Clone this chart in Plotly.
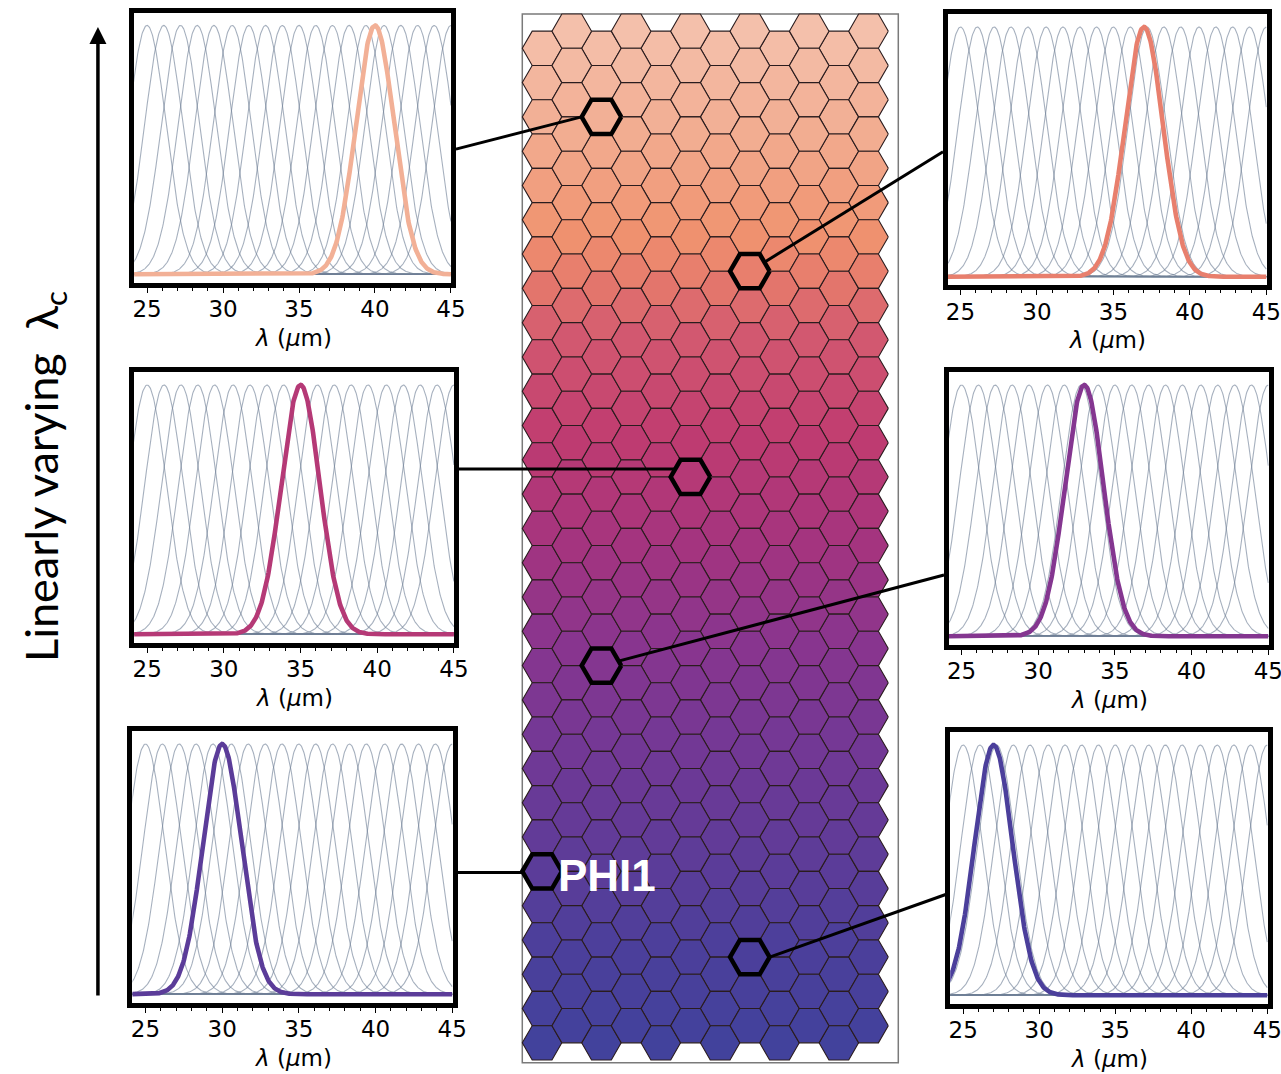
import numpy as np
import plotly.graph_objects as go
from plotly.colors import sample_colorscale

# ---------------- data ----------------
FILTER_CENTERS = [25.0, 26.1, 27.2, 28.3, 29.4, 30.6, 31.7, 32.8, 33.9, 35.0,
                  36.1, 37.2, 38.3, 39.4, 40.6, 41.7, 42.8, 43.9, 45.0]   # µm
FILTER_SIGMA = 1.25                                                      # µm
PANEL_LAMBDA = [40, 37, 35, 33, 30, 27]          # highlighted filter centre per inset
PANEL_HEX_COL = [2, 7, 5, 2, 0, 7]               # hex column of each highlighted pixel
PANEL_HEX_ROW = [2, 7, 13, 18, 24, 27]           # hex row of each highlighted pixel
X_TICKS = [25, 30, 35, 40, 45]
N_COLS = 12
N_ROWS = 30
# vertical colour gradient of the array (0 = top row, 1 = bottom row)
GRAD_POS = [0.0, 0.10, 0.20, 0.25, 0.30, 0.40, 0.50, 0.60, 0.70, 0.80, 0.90, 1.0]
GRAD_RGB = ["rgb(244,192,171)", "rgb(242,173,146)", "rgb(240,147,111)",
            "rgb(229,120,108)", "rgb(211,90,112)", "rgb(192,60,112)",
            "rgb(166,52,126)", "rgb(138,53,142)", "rgb(116,56,149)",
            "rgb(97,59,152)", "rgb(77,63,155)", "rgb(66,66,156)"]
COLORSCALE = [[p, c] for p, c in zip(GRAD_POS, GRAD_RGB)]

# ---------------- geometry / style ----------------
W, H = 1281, 1074            # coordinate frame (reference pixels)
FIG_W = 1296                 # rendered width
BOX_X0, BOX_Y0, BOX_X1, BOX_Y1 = 520.7, 14.0, 897.0, 1062.7
R = 19.8
HEX_H = np.sqrt(3) * R
CX0 = BOX_X0 + R
CY0 = BOX_Y0 + HEX_H / 2
CY_TOP = CY0
CY_BOT = CY0 + (N_ROWS - 1) * HEX_H + HEX_H / 2

# inset frames (line centres): left, top, right, bottom
PANEL_BOX = [(130.0, 10.5, 452.0, 285.0), (944.0, 12.0, 1268.0, 287.5),
             (130.0, 370.0, 455.0, 645.0), (945.0, 370.0, 1270.0, 647.0),
             (128.3, 729.0, 453.3, 1005.0), (946.7, 730.0, 1269.0, 1006.0)]
PANEL_SIDE = ["left", "right", "left", "right", "left", "right"]
ANCHOR_FRAC = [0.505, 0.507, 0.36, 0.74, 0.52, 0.596]
TARGET_MODE = ["lvertex", "center", "horiz", "center", "horiz", "rvertex"]
FRAME_LW = 4.5
XR = [24.15, 45.03]
YR = [-0.034, 1.051]
GRAY = "rgba(112,128,150,0.62)"


def hex_center(c, r):
    cx = CX0 + c * 1.5 * R
    cy = CY0 + r * HEX_H + (HEX_H / 2 if c % 2 == 0 else 0.0)
    return cx, cy


def hex_poly(cx, cy):
    ang = np.deg2rad(np.arange(0, 361, 60))
    return list(cx + R * np.cos(ang)), list(cy + R * np.sin(ang))


def color_at(cy):
    t = (cy - CY_TOP) / (CY_BOT - CY_TOP)
    return sample_colorscale(COLORSCALE, [min(max(t, 0), 1)])[0]


fig = go.Figure()

# ---- hexagonal array (main full-canvas axis) ----
for parity in (0, 1):
    for r in range(N_ROWS):
        xs, ys = [], []
        cy_ref = None
        for c in range(N_COLS):
            if c % 2 != parity:
                continue
            cx, cy = hex_center(c, r)
            cy_ref = cy
            px, py = hex_poly(cx, cy)
            xs += px + [None]
            ys += py + [None]
        fig.add_trace(go.Scatter(x=xs, y=ys, mode="lines", fill="toself",
                                 fillcolor=color_at(cy_ref),
                                 line=dict(color="#2a1c1e", width=1.1),
                                 hoverinfo="skip", showlegend=False,
                                 xaxis="x", yaxis="y"))

# ---- connector lines ----
for i in range(6):
    L, T, Rr, B = PANEL_BOX[i]
    sx = Rr + FRAME_LW / 2 if PANEL_SIDE[i] == "left" else L - FRAME_LW / 2
    sy = T + ANCHOR_FRAC[i] * (B - T)
    cx, cy = hex_center(PANEL_HEX_COL[i], PANEL_HEX_ROW[i])
    mode = TARGET_MODE[i]
    if mode == "lvertex":
        ex, ey = cx - R, cy
    elif mode == "rvertex":
        ex, ey = cx + R, cy
    elif mode == "horiz":
        ex, ey = cx, sy
    else:
        ex, ey = cx, cy
    fig.add_trace(go.Scatter(x=[sx, ex], y=[sy, ey], mode="lines",
                             line=dict(color="black", width=3),
                             hoverinfo="skip", showlegend=False,
                             xaxis="x", yaxis="y"))

# ---- highlighted pixels ----
for i in range(6):
    cx, cy = hex_center(PANEL_HEX_COL[i], PANEL_HEX_ROW[i])
    px, py = hex_poly(cx, cy)
    fig.add_trace(go.Scatter(x=px, y=py, mode="lines", fill="toself",
                             fillcolor=color_at(cy),
                             line=dict(color="black", width=4.5),
                             hoverinfo="skip", showlegend=False,
                             xaxis="x", yaxis="y"))

# ---- inset panels ----
wave = np.linspace(24.0, 45.0, 600)
annotations = []
for i in range(6):
    k = i + 2
    L, T, Rr, B = PANEL_BOX[i]
    iL, iT, iR, iB = L + FRAME_LW / 2, T + FRAME_LW / 2, Rr - FRAME_LW / 2, B - FRAME_LW / 2
    gx, gy = [], []
    for c0 in FILTER_CENTERS:
        gx += list(wave) + [None]
        gy += list(np.exp(-0.5 * ((wave - c0) / FILTER_SIGMA) ** 2)) + [None]
    fig.add_trace(go.Scatter(x=gx, y=gy, mode="lines", line=dict(color=GRAY, width=1.1),
                             hoverinfo="skip", showlegend=False,
                             xaxis=f"x{k}", yaxis=f"y{k}"))
    cx, cy = hex_center(PANEL_HEX_COL[i], PANEL_HEX_ROW[i])
    fig.add_trace(go.Scatter(x=wave,
                             y=np.exp(-0.5 * ((wave - PANEL_LAMBDA[i]) / FILTER_SIGMA) ** 2),
                             mode="lines", line=dict(color=color_at(cy), width=4.6),
                             hoverinfo="skip", showlegend=False,
                             xaxis=f"x{k}", yaxis=f"y{k}"))
    fig.update_layout(**{
        f"xaxis{k}": dict(domain=[iL / W, iR / W], anchor=f"y{k}", range=XR,
                          showline=True, mirror=True, linewidth=FRAME_LW, linecolor="black",
                          ticks="outside", ticklen=5, tickwidth=1.2, tickcolor="black",
                          tickvals=X_TICKS, showgrid=False, zeroline=False,
                          ticklabelstandoff=-3,
                          tickfont=dict(family="DejaVu Sans", size=23, color="black"),
                          minor=dict(ticks="outside", dtick=1, tick0=0, ticklen=3,
                                     tickwidth=1, tickcolor="black", showgrid=False),
                          fixedrange=True),
        f"yaxis{k}": dict(domain=[1 - iB / H, 1 - iT / H], anchor=f"x{k}", range=YR,
                          showline=True, mirror=True, linewidth=FRAME_LW, linecolor="black",
                          ticks="", showticklabels=False, showgrid=False, zeroline=False,
                          fixedrange=True),
    })
    annotations.append(dict(text="<i>λ</i> (<i>μ</i>m)", xref="paper", yref="paper",
                            x=(L + Rr) / 2 / W, y=1 - (B + 53) / H,
                            xanchor="center", yanchor="middle", showarrow=False,
                            font=dict(family="DejaVu Sans", size=23, color="black")))

# PHI1 label next to its pixel
pcx, pcy = hex_center(PANEL_HEX_COL[4], PANEL_HEX_ROW[4])
annotations.append(dict(text="<b>PHI1</b>", xref="x", yref="y", x=pcx + R - 6, y=pcy + 4,
                        xanchor="left", yanchor="middle", showarrow=False,
                        font=dict(family="Liberation Sans", size=44, color="white")))

# vertical arrow and its label
annotations.append(dict(text="", xref="x", yref="y", x=96, y=27, ax=96, ay=997,
                        axref="x", ayref="y", showarrow=True, arrowhead=2,
                        arrowwidth=3.5, arrowsize=0.97, arrowcolor="black"))
annotations.append(dict(text="Linearly varying\u00a0 λ<sub>c</sub>", xref="paper", yref="paper",
                        x=42 / W, y=1 - 476 / H, textangle=-90,
                        xanchor="center", yanchor="middle", showarrow=False,
                        font=dict(family="Lato", size=45, color="black")))

fig.update_layout(
    width=FIG_W, height=H, margin=dict(l=0, r=0, t=0, b=0),
    paper_bgcolor="white", plot_bgcolor="white",
    xaxis=dict(domain=[0, 1], range=[0, W], visible=False, fixedrange=True),
    yaxis=dict(domain=[0, 1], range=[H, 0], visible=False, fixedrange=True),
    shapes=[dict(type="rect", xref="x", yref="y", x0=BOX_X0, y0=BOX_Y0, x1=BOX_X1, y1=BOX_Y1,
                 line=dict(color="#7a7a7a", width=1.5), layer="below")],
    annotations=annotations,
)

fig.write_html(
    "out.html",
    config={"displayModeBar": False, "responsive": False},
    post_script=("document.documentElement.style.overflow='hidden';"
                 "document.body.style.overflow='hidden';"
                 "document.body.style.margin='0px';"),
)
